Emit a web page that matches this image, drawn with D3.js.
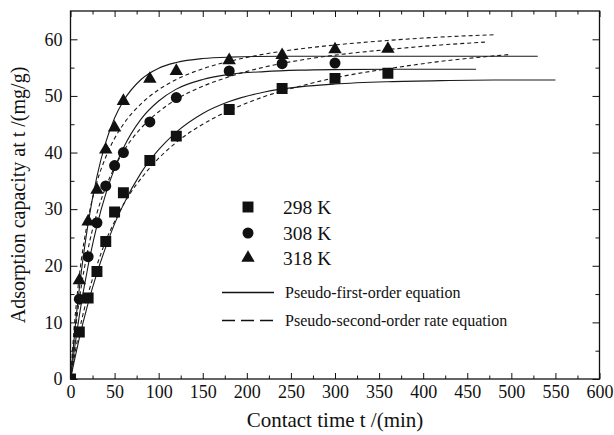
<!DOCTYPE html>
<html>
<head>
<meta charset="utf-8">
<script src="https://cdn.jsdelivr.net/npm/d3@7"></script>
<style>
  body { margin: 0; background: #fff; }
  svg { display: block; }
  text { font-family: "Liberation Serif", "Times New Roman", serif; fill: #111; }
</style>
</head>
<body>
<div id="chart"></div>
<script>
// Measured points (contact time in min, adsorption capacity in mg/g)
const timeMin = [0, 10, 20, 30, 40, 50, 60, 90, 120, 180, 240, 300, 360];
const q298 = [0, 8.3, 14.3, 19.0, 24.3, 29.5, 32.9, 38.6, 42.9, 47.6, 51.3, 53.1, 54.0];
const q308 = [0, 14.1, 21.6, 27.6, 34.1, 37.7, 40.0, 45.4, 49.7, 54.4, 55.7, 55.8];
const q318 = [0, 17.4, 27.8, 33.4, 40.5, 44.4, 49.1, 53.0, 54.4, 56.3, 57.2, 58.2, 58.3];

// Fitted curves: pseudo-first-order (solid)
const pfoTime298 = [0, 5, 10, 20, 30, 40, 50, 60, 80, 100, 120, 150, 180, 220, 260, 300, 360, 420, 480, 550];
const pfo298 = [0, 3.7, 7.2, 13.4, 18.7, 23.3, 27.4, 30.8, 36.4, 40.5, 43.6, 46.9, 49.0, 50.7, 51.6, 52.1, 52.5, 52.7, 52.8, 52.8];
const pfoTime308 = [0, 5, 10, 20, 30, 40, 50, 60, 80, 100, 120, 150, 180, 220, 260, 300, 360, 460];
const pfo308 = [0, 5.9, 11.2, 20.0, 27.1, 32.7, 37.2, 40.8, 45.9, 49.1, 51.2, 52.9, 53.8, 54.3, 54.55, 54.65, 54.7, 54.7];
const pfoTime318 = [0, 5, 10, 20, 30, 40, 50, 60, 80, 100, 120, 150, 180, 240, 300, 400, 530];
const pfo318 = [0, 8.7, 16.0, 27.5, 35.8, 41.8, 46.1, 49.1, 52.9, 54.9, 55.9, 56.6, 56.85, 57.0, 57.0, 57.0, 57.0];

// pseudo-second-order (dashed)
const psoTime298 = [0, 5, 10, 20, 30, 40, 50, 60, 90, 120, 150, 180, 220, 260, 300, 360, 420, 497];
const pso298 = [0, 4.5, 8.5, 15.0, 20.1, 24.4, 27.8, 30.8, 37.3, 41.8, 45.0, 47.4, 49.9, 51.7, 53.2, 54.8, 56.1, 57.3];
const psoTime308 = [0, 5, 10, 20, 30, 40, 50, 60, 80, 100, 120, 150, 180, 220, 260, 300, 360, 420, 470];
const pso308 = [0, 7.9, 14.0, 23.0, 29.3, 33.9, 37.4, 40.2, 44.3, 47.2, 49.4, 51.7, 53.4, 55.1, 56.3, 57.2, 58.2, 59.0, 59.5];
const psoTime318 = [0, 5, 10, 20, 30, 40, 50, 60, 80, 100, 120, 150, 180, 220, 260, 300, 360, 420, 480];
const pso318 = [0, 10.6, 18.2, 28.3, 34.8, 39.2, 42.5, 45.0, 48.6, 51.1, 52.9, 54.8, 56.1, 57.4, 58.3, 59.0, 59.8, 60.4, 60.8];

const seriesLabels = ["298 K", "308 K", "318 K"];
const lineLabels = ["Pseudo-first-order equation", "Pseudo-second-order rate equation"];
const xTicks = [0, 50, 100, 150, 200, 250, 300, 350, 400, 450, 500, 550, 600];
const yTicks = [0, 10, 20, 30, 40, 50, 60];

const width = 614, height = 435;
const margin = { top: 11, right: 14.5, bottom: 56, left: 70.5 };

const svg = d3.select("#chart").append("svg")
  .attr("width", width)
  .attr("height", height);

const x = d3.scaleLinear().domain([0, 600]).range([margin.left, width - margin.right]);
const y = d3.scaleLinear().domain([0, 65]).range([height - margin.bottom, margin.top]);

svg.append("clipPath").attr("id", "plot-clip")
  .append("rect")
  .attr("x", x(0)).attr("y", y(65))
  .attr("width", x(600) - x(0)).attr("height", y(0) - y(65));

// axes: ticks pointing inward on all four sides
function addAxis(axis, tx, ty, labels) {
  const g = svg.append("g").attr("transform", `translate(${tx},${ty})`).call(axis);
  g.select(".domain").remove();
  g.selectAll("line").attr("stroke", "#111");
  g.selectAll("text").style("font-size", "18px").attr("fill", "#111");
  if (!labels) g.selectAll("text").remove();
  return g;
}
const xMinor = d3.range(25, 600, 50);
const yMinor = d3.range(5, 65, 10);

addAxis(d3.axisBottom(x).tickValues(xTicks).tickSize(-6).tickPadding(6), 0, y(0), true);
addAxis(d3.axisBottom(x).tickValues(xMinor).tickSize(-3.5).tickFormat(""), 0, y(0), false);
addAxis(d3.axisTop(x).tickValues(xTicks).tickSize(-6), 0, y(65), false);
addAxis(d3.axisTop(x).tickValues(xMinor).tickSize(-3.5), 0, y(65), false);
addAxis(d3.axisLeft(y).tickValues(yTicks).tickSize(-7).tickPadding(8), x(0), 0, true);
addAxis(d3.axisLeft(y).tickValues(yMinor).tickSize(-4).tickFormat(""), x(0), 0, false);
addAxis(d3.axisRight(y).tickValues(yTicks).tickSize(-7), x(600), 0, false);
addAxis(d3.axisRight(y).tickValues(yMinor).tickSize(-4), x(600), 0, false);

svg.append("rect")
  .attr("x", x(0)).attr("y", y(65))
  .attr("width", x(600) - x(0)).attr("height", y(0) - y(65))
  .attr("fill", "none").attr("stroke", "#111").attr("stroke-width", 1.3);

// fitted curves
const line = d3.line().x(d => x(d[0])).y(d => y(d[1])).curve(d3.curveMonotoneX);
const curves = [
  [pfoTime298, pfo298, null], [pfoTime308, pfo308, null], [pfoTime318, pfo318, null],
  [psoTime298, pso298, "4,3"], [psoTime308, pso308, "4,3"], [psoTime318, pso318, "4,3"]
];
const plot = svg.append("g").attr("clip-path", "url(#plot-clip)");
curves.forEach(([ts, qs, dash]) => {
  plot.append("path")
    .datum(ts.map((t, i) => [t, qs[i]]))
    .attr("d", line)
    .attr("fill", "none")
    .attr("stroke", "#1a1a1a")
    .attr("stroke-width", 1.1)
    .attr("stroke-dasharray", dash);
});

// markers
const symbols = [d3.symbol(d3.symbolSquare, 120), d3.symbol(d3.symbolCircle, 95), d3.symbol(d3.symbolTriangle, 78)];
[q298, q308, q318].forEach((qs, s) => {
  plot.selectAll(null)
    .data(qs.map((q, i) => [timeMin[i], q]))
    .enter().append("path")
    .attr("d", symbols[s])
    .attr("transform", d => `translate(${x(d[0])},${y(d[1])})`)
    .attr("fill", "#111");
});

// legend
const legendY = [207, 233, 258];
seriesLabels.forEach((label, i) => {
  svg.append("path").attr("d", symbols[i])
    .attr("transform", `translate(248,${legendY[i]})`)
    .attr("fill", "#111");
  svg.append("text").attr("x", 283).attr("y", legendY[i] + 6.5)
    .style("font-size", "19.5px").text(label);
});
const lineLegendY = [292.5, 320.5];
lineLabels.forEach((label, i) => {
  svg.append("line")
    .attr("x1", 222).attr("x2", 274)
    .attr("y1", lineLegendY[i]).attr("y2", lineLegendY[i])
    .attr("stroke", "#111").attr("stroke-width", 1.4)
    .attr("stroke-dasharray", i === 1 ? "13,6" : null);
  svg.append("text").attr("x", 285).attr("y", lineLegendY[i] + 5)
    .style("font-size", "16px").text(label);
});

// axis titles
svg.append("text")
  .attr("x", (x(0) + x(600)) / 2).attr("y", 427)
  .attr("text-anchor", "middle")
  .style("font-size", "21px")
  .text("Contact time t /(min)");

svg.append("text")
  .attr("transform", `translate(25,${(y(0) + y(65)) / 2}) rotate(-90)`)
  .attr("text-anchor", "middle")
  .style("font-size", "20px")
  .text("Adsorption capacity at t /(mg/g)");
</script>
</body>
</html>
